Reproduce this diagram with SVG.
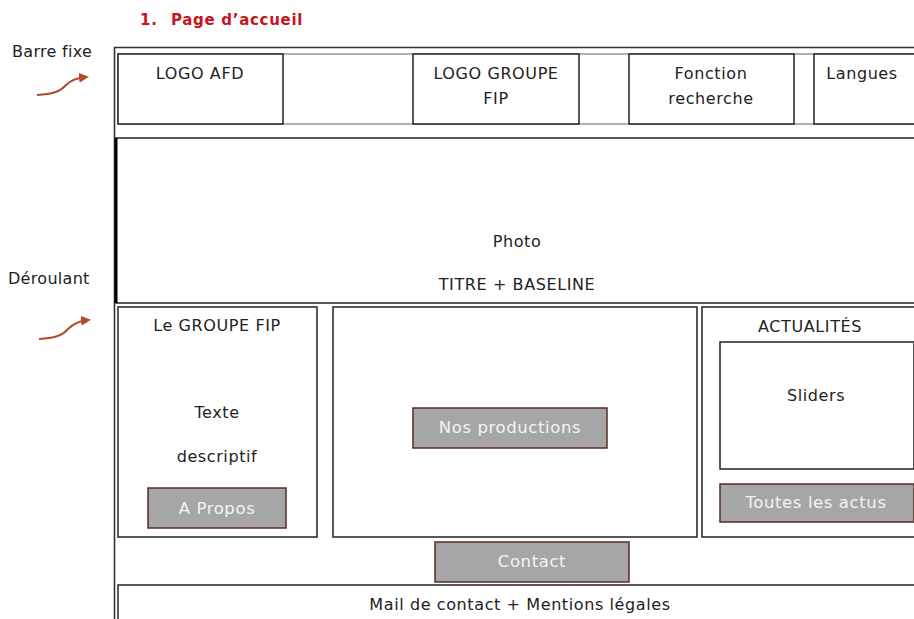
<svg xmlns="http://www.w3.org/2000/svg" width="914" height="619" viewBox="0 0 914 619">
<defs>
<style>
text{font-family:"DejaVu Sans","Liberation Sans",sans-serif;fill:#222;font-size:16px;letter-spacing:0.6px;text-anchor:middle}
.box{fill:#fff;stroke:#222;stroke-width:1.5}
.frame{fill:none;stroke:#333;stroke-width:1.6}
.gray{fill:#fff;stroke:#999;stroke-width:1.5}
.btn{fill:#a6a6a6;stroke:#5b2a22;stroke-width:1.5}
.btnt{fill:#f4f4f4;font-size:16.5px}
.side{text-anchor:start;font-size:16px;letter-spacing:0.3px}
.ttl{text-anchor:start;fill:#c4161c;font-weight:bold;font-size:15px;letter-spacing:0.7px}
.arrow{fill:none;stroke:#b04a30;stroke-width:2;marker-end:url(#ah)}
</style>
<marker id="ah" viewBox="0 0 10 10" refX="7" refY="5" markerWidth="5" markerHeight="5" orient="auto">
<path d="M0,0 L10,5 L0,10 z" fill="#b04a30"/>
</marker>
</defs>
<rect width="914" height="619" fill="#fff"/>
<g id="title">
<text class="ttl" x="140" y="25">1.</text>
<text class="ttl" x="171" y="25">Page d’accueil</text>
</g>
<g id="labels">
<text class="side" x="12" y="57">Barre fixe</text>
<text class="side" x="8" y="284">Déroulant</text>
</g>
<g id="connectors">
<path class="arrow" d="M37,95 C52,94 60,92 66,85 C71,80 76,78 86,77"/>
<path class="arrow" d="M39,339 C54,338 62,336 68,329 C73,324 78,321 88,320"/>
</g>
<g id="frame">
<path class="frame" d="M114.5,625 V47.5 H920"/>
</g>
<g id="header">
<rect class="gray" x="118" y="54" width="800" height="70"/>
</g>
<g id="logo-afd"><rect class="box" x="118" y="54" width="165" height="70"/><text x="200" y="79">LOGO AFD</text></g>
<g id="logo-groupe"><rect class="box" x="413" y="54" width="166" height="70"/><text x="496" y="79">LOGO GROUPE</text><text x="496" y="104">FIP</text></g>
<g id="recherche"><rect class="box" x="629" y="54" width="165" height="70"/><text x="711" y="79">Fonction</text><text x="711" y="104">recherche</text></g>
<g id="langues"><rect class="box" x="814" y="54" width="110" height="70"/><text x="862" y="79">Langues</text></g>
<g id="photo">
<rect class="box" x="116" y="138" width="810" height="165"/>
<line x1="116" y1="138" x2="116" y2="303" stroke="#000" stroke-width="3"/>
<text x="517" y="247">Photo</text>
<text x="517" y="290">TITRE + BASELINE</text>
</g>
<g id="groupe-fip">
<rect class="box" x="118" y="307" width="199" height="230"/>
<text x="217" y="331">Le GROUPE FIP</text>
<text x="217" y="418">Texte</text>
<text x="217" y="462">descriptif</text>
</g>
<g id="a-propos"><rect class="btn" x="148" y="488" width="138" height="40"/><text class="btnt" x="217" y="514">A Propos</text></g>
<g id="productions-zone"><rect class="box" x="333" y="307" width="364" height="230"/></g>
<g id="nos-productions"><rect class="btn" x="413" y="408" width="194" height="40"/><text class="btnt" x="510" y="433">Nos productions</text></g>
<g id="actualites">
<rect class="box" x="702" y="307" width="230" height="230"/>
<text x="810" y="332">ACTUALITÉS</text>
</g>
<g id="sliders"><rect class="box" x="720" y="342" width="194" height="127"/><text x="816" y="401">Sliders</text></g>
<g id="toutes-actus"><rect class="btn" x="720" y="484" width="194" height="38"/><text class="btnt" x="816" y="508">Toutes les actus</text></g>
<g id="contact"><rect class="btn" x="435" y="542" width="194" height="40"/><text class="btnt" x="532" y="567">Contact</text></g>
<g id="footer">
<rect class="box" x="118" y="585" width="810" height="50"/>
<text x="520" y="610">Mail de contact + Mentions légales</text>
</g>
</svg>
